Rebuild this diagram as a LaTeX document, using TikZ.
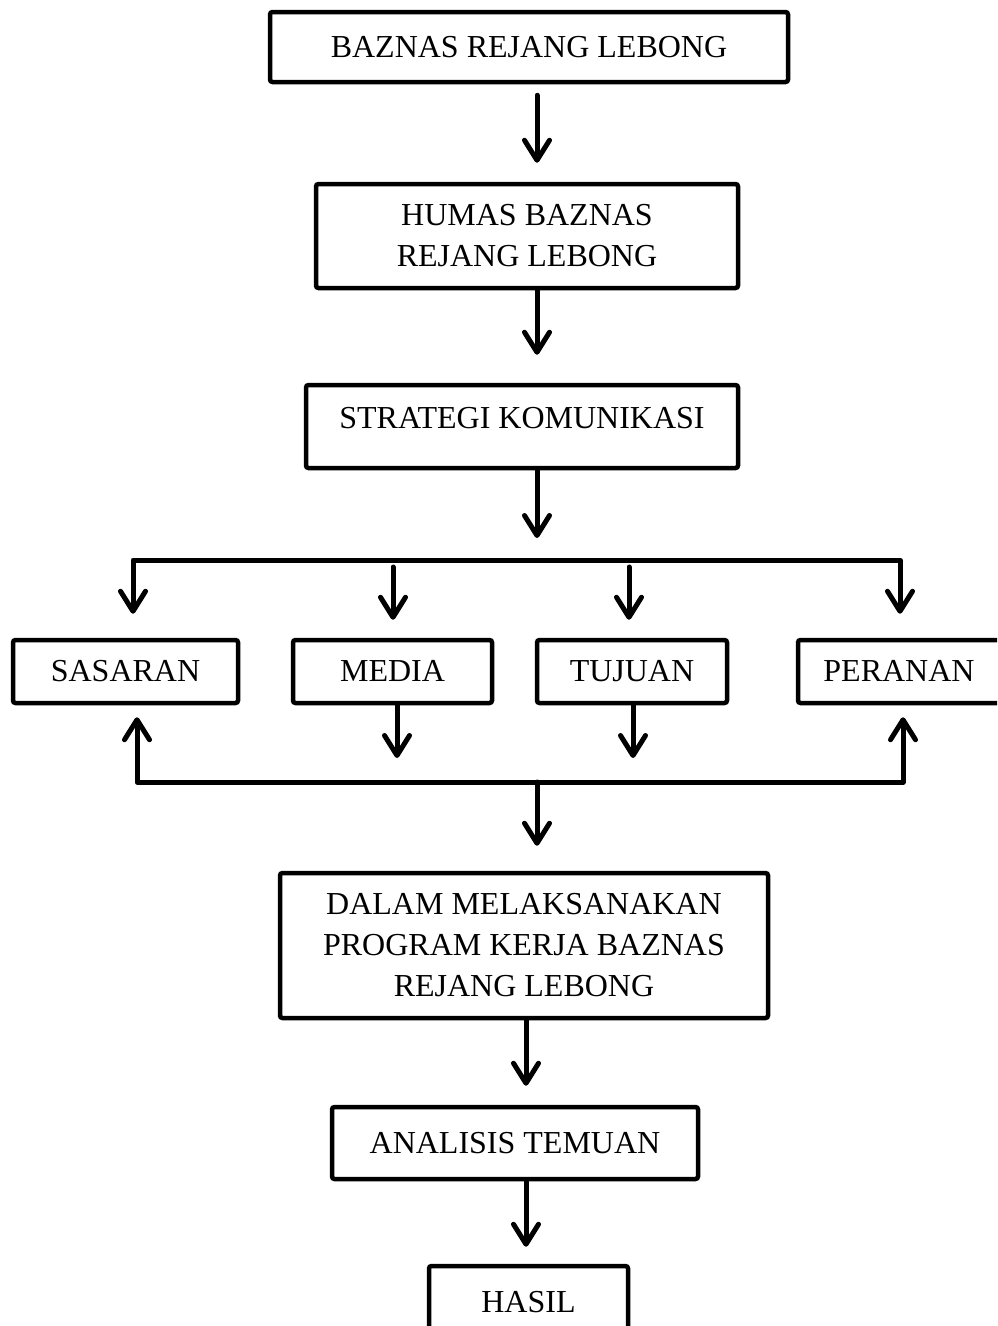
\documentclass[tikz,border=0pt]{standalone}
\usepackage{fontspec}
\setmainfont{Liberation Serif}
\usetikzlibrary{arrows.meta}
\begin{document}
\begin{tikzpicture}[x=1pt,y=-1pt,
  box/.style={draw, line width=4.5pt, rounded corners=2.5pt, inner sep=0pt, align=center,
    font=\fontsize{32}{41}\selectfont},
  oneline/.style={box, text height=22pt, text depth=2pt},
  arr/.style={line width=5pt, line cap=round, line join=round,
    -{Straight Barb[length=20pt,width=25pt,round]}},
  barr/.style={line width=5pt, line cap=round, line join=round,
    {Straight Barb[length=20pt,width=25pt,round]}-{Straight Barb[length=20pt,width=25pt,round]}}]
\clip (0,0) rectangle (997,1326);
\fill[white] (0,0) rectangle (997,1326);
% nodes
\node[oneline, minimum width=518pt, minimum height=70pt] (b1) at (529,47) {BAZNAS REJANG LEBONG};
\node[box, minimum width=422pt, minimum height=104pt] (b2) at (527,236) {HUMAS BAZNAS\\REJANG LEBONG};
\node[oneline, minimum width=432pt, minimum height=83pt, text depth=18pt] (b3) at (522,426.5) {STRATEGI KOMUNIKASI};
\node[oneline, minimum width=225pt, minimum height=63pt] (sas) at (125.5,671.5) {SASARAN};
\node[oneline, minimum width=199pt, minimum height=63pt] (med) at (392.5,671.5) {MEDIA};
\node[oneline, minimum width=190pt, minimum height=63pt] (tuj) at (632,671.5) {TUJUAN};
\node[oneline, minimum width=202pt, minimum height=63pt] (per) at (899,671.5) {PERANAN};
\node[box, minimum width=488pt, minimum height=145pt] (dal) at (524,945.5) {DALAM MELAKSANAKAN\\PROGRAM KERJA BAZNAS\\REJANG LEBONG};
\node[oneline, minimum width=366pt, minimum height=72pt] (ana) at (515,1143) {ANALISIS TEMUAN};
\node[oneline, minimum width=199pt, minimum height=72pt] (has) at (528.5,1302) {HASIL};
% helper coordinates
\coordinate (sp) at (537,0);
\coordinate (lo) at (526,0);
\coordinate (xl) at (133,0);
\coordinate (xr) at (900,0);
\coordinate (xl2) at (137,0);
\coordinate (xr2) at (903,0);
\coordinate (xm) at (393,0);
\coordinate (xt) at (629,0);
\coordinate (xm2) at (397,0);
\coordinate (xt2) at (633,0);
\coordinate (tb) at (0,560);
\coordinate (bb) at (0,782);
% connectors
\draw[arr, shorten <=11pt, shorten >=19pt] (b1.south -| sp) -- (b2.north -| sp);
\draw[arr, shorten >=28pt] (b2.south -| sp) -- (b3.north -| sp);
\draw[arr, shorten >=22pt] (b3.south -| sp) -- (tb -| sp);
\draw[barr, shorten <=24pt, shorten >=24pt] (sas.north -| xl) -- (xl |- tb) -- (xr |- tb) -- (per.north -| xr);
\draw[arr, shorten <=7pt, shorten >=18pt] (tb -| xm) -- (med.north -| xm);
\draw[arr, shorten <=7pt, shorten >=18pt] (tb -| xt) -- (tuj.north -| xt);
\draw[arr, shorten >=24pt] (med.south -| xm2) -- (bb -| xm2);
\draw[arr, shorten >=24pt] (tuj.south -| xt2) -- (bb -| xt2);
\draw[barr, shorten <=12pt, shorten >=12pt] (sas.south -| xl2) -- (xl2 |- bb) -- (xr2 |- bb) -- (per.south -| xr2);
\draw[arr, shorten >=25pt] (bb -| sp) -- (dal.north -| sp);
\draw[arr, shorten >=19pt] (dal.south -| lo) -- (ana.north -| lo);
\draw[arr, shorten >=17pt] (ana.south -| lo) -- (has.north -| lo);
\end{tikzpicture}
\end{document}
